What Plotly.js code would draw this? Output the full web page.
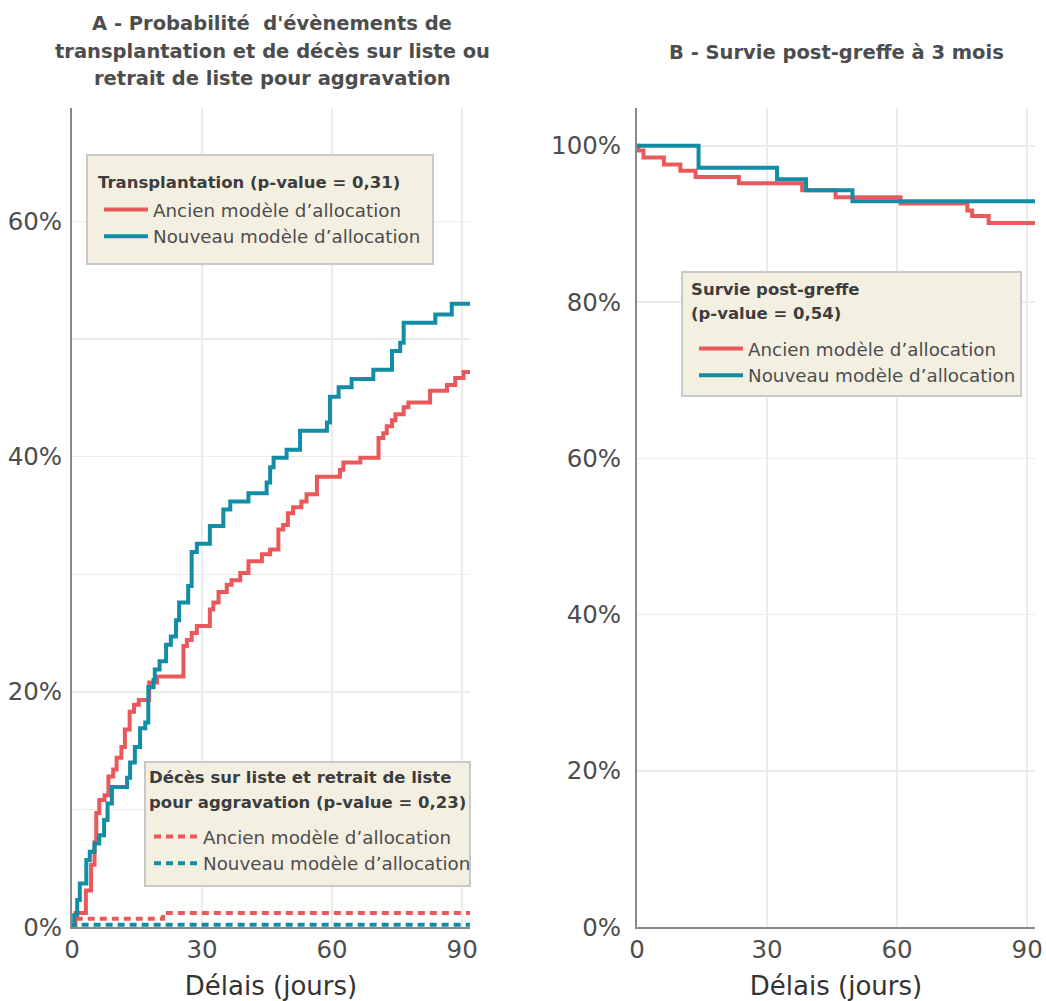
<!DOCTYPE html>
<html>
<head>
<meta charset="utf-8">
<script src="https://cdn.plot.ly/plotly-3.0.1.min.js"></script>
<style>html,body{margin:0;padding:0;background:#fff;}#chart{width:1046px;height:1001px;}</style>
</head>
<body>
<div id="chart"></div>
<script>
// ---------- DATA ----------
// Panel A : transplantation (cumulative incidence, %)
const daysTxAncien = [0,0.8,3.2,4.4,5.2,5.6,6.3,7.5,8.4,9.5,10.3,11.4,12.2,13.3,14.3,15.4,17.8,19.6,25.7,26.5,27.6,28.8,31.8,32.6,33.8,35.7,36.8,38.8,40.7,43.8,45.7,47.6,48.7,49.8,51.0,52.9,54.1,56.5,61.8,62.6,66.5,70.7,71.8,72.6,73.8,74.6,76.5,77.6,82.6,86.5,88.4,90.3,91.8];
const pctTxAncien  = [0,1.2,3.1,5.3,7.2,9.7,10.8,11.2,12.8,13.4,14.4,15.3,16.8,18.3,18.9,19.3,20.8,21.3,23.9,24.4,25.0,25.6,27.0,27.6,28.5,29.1,29.5,30.1,31.1,31.7,32.1,33.8,34.2,35.2,35.7,36.2,36.8,38.3,38.9,39.5,39.9,41.6,42.0,42.6,43.1,43.6,44.2,44.6,45.6,46.1,46.7,47.2,47.2];
const daysTxNouveau = [0,0.5,1.2,1.8,3.3,4.1,5.2,6.3,7.4,8.2,9.2,12.7,13.4,14.5,15.7,16.9,17.6,18.8,19.1,20.2,21.7,22.8,24.0,24.7,26.8,27.6,28.8,31.8,34.9,36.5,40.7,44.9,45.7,46.5,49.5,52.6,58.8,59.5,61.5,64.5,69.5,73.8,75.7,76.5,83.8,87.6,91.8];
const pctTxNouveau  = [0,1.0,2.3,3.7,5.7,6.4,7.1,7.8,9.1,10.5,11.9,12.7,14.0,15.3,16.9,17.4,20.4,21.0,21.9,22.6,24.0,24.7,26.1,27.6,29.0,31.9,32.6,34.1,35.5,36.2,36.9,37.8,39.1,39.9,40.6,42.2,42.9,45.1,45.9,46.6,47.4,49.0,49.7,51.4,52.1,53.0,53.0];
// Panel A : death on list / removal for aggravation (%)
const daysDcAncien = [0,0.5,21.0,91.8];
const pctDcAncien  = [0,0.7,1.2,1.2];
const daysDcNouveau = [0,0.5,91.8];
const pctDcNouveau  = [0,0.2,0.2];
// Panel B : post-transplant survival (%)
const daysSurvAncien = [0,0.3,1.5,6.2,10.0,13.5,23.5,38.1,45.8,60.8,76.2,77.3,81.1,91.8];
const pctSurvAncien  = [100,99.4,98.5,97.6,96.8,96.0,95.2,94.3,93.4,92.6,91.7,91.0,90.1,90.1];
const daysSurvNouveau = [0,14.2,32.3,39.0,49.7,91.8];
const pctSurvNouveau  = [100,97.2,95.7,94.3,92.9,92.9];

// tick labels
const xTickVals = [0, 30, 60, 90];
const yTickValsA = [0, 20, 40, 60];
const yTickValsB = [0, 20, 40, 60, 80, 100];

// texts
const seriesNames = ["Ancien modèle d’allocation", "Nouveau modèle d’allocation"];
const titleALines = ["A - Probabilité  d'évènements de", "transplantation et de décès sur liste ou", "retrait de liste pour aggravation"];
const titleB = "B - Survie post-greffe à 3 mois";
const legendTitle1Lines = ["Transplantation (p-value = 0,31)"];
const legendTitle2Lines = ["Décès sur liste et retrait de liste", "pour aggravation (p-value = 0,23)"];
const legendTitle3Lines = ["Survie post-greffe", "(p-value = 0,54)"];
const xTitle = "Délais (jours)";

// ---------- STYLE ----------
const W = 1046, H = 1001;
const px = (v) => v / W;          // pixel x -> paper
const py = (v) => 1 - v / H;      // pixel y -> paper
const RED = "#E9585B", BLUE = "#128DA6";
const FONT = "DejaVu Sans";
const TXT = "#4d4d4d";
const HEAD = "#3d3d3d";
const BOXFILL = "#F3F0E2", BOXLINE = "#c9c9c9";

function tr(x, y, color, name, xa, ya, leg, dash) {
  return {
    x: x, y: y, type: "scatter", mode: "lines", name: name,
    line: {shape: "hv", color: color, width: 4, dash: dash || "solid"},
    xaxis: xa, yaxis: ya, legend: leg, hoverinfo: "skip"
  };
}

const traces = [
  tr(daysTxAncien, pctTxAncien, RED, seriesNames[0], "x", "y", "legend"),
  tr(daysTxNouveau, pctTxNouveau, BLUE, seriesNames[1], "x", "y", "legend"),
  tr(daysDcAncien, pctDcAncien, RED, seriesNames[0], "x", "y", "legend2", "7px,5px"),
  tr(daysDcNouveau, pctDcNouveau, BLUE, seriesNames[1], "x", "y", "legend2", "7px,5px"),
  tr(daysSurvAncien, pctSurvAncien, RED, seriesNames[0], "x2", "y2", "legend3"),
  tr(daysSurvNouveau, pctSurvNouveau, BLUE, seriesNames[1], "x2", "y2", "legend3")
];

const axX = (dom) => ({
  domain: dom, range: [0, 91.8], tickvals: xTickVals, ticktext: xTickVals.map(String),
  showgrid: true, gridcolor: "#ebebeb", gridwidth: 1.5,
  showline: true, linecolor: "#8a8a8a", linewidth: 2,
  zeroline: false, ticks: "",
  tickfont: {family: FONT, size: 24.5, color: TXT},
  title: {text: xTitle, font: {family: FONT, size: 26, color: "#333"}, standoff: 18},
  fixedrange: true
});
const axY = (rng, vals, minorOn, standoff) => ({
  domain: [py(927), py(107.5)], range: rng, tickvals: vals, ticktext: vals.map(v => v + "%"),
  showgrid: true, gridcolor: "#ebebeb", gridwidth: 1.5,
  showline: true, linecolor: "#8a8a8a", linewidth: 2, zeroline: false, ticks: "",
  ticklabelstandoff: standoff,
  tickfont: {family: FONT, size: 24.5, color: TXT},
  minor: minorOn ? {dtick: 10, tick0: 0, showgrid: true, gridcolor: "#ebebeb", gridwidth: 1.5, ticks: ""} : undefined,
  fixedrange: true
});

const legendBase = {
  bgcolor: "rgba(0,0,0,0)", borderwidth: 0,
  font: {family: FONT, size: 18.3, color: TXT},
  xref: "paper", yref: "paper", xanchor: "left", yanchor: "top",
  tracegroupgap: 0, itemwidth: 44
};

function box(x0, y0, x1, y1) {
  return {type: "rect", xref: "paper", yref: "paper", x0: px(x0), x1: px(x1), y0: py(y1), y1: py(y0),
          fillcolor: BOXFILL, line: {color: BOXLINE, width: 2}, layer: "above"};
}

function heading(lines, x, y0, step, size, anchor, color) {
  return lines.map((t, i) => ({
    text: "<b>" + t + "</b>", xref: "paper", yref: "paper", x: px(x), y: py(y0 + i * step),
    xanchor: anchor, yanchor: "middle", showarrow: false, align: anchor === "center" ? "center" : "left",
    font: {family: FONT, size: size, color: color}
  }));
}

const annotations = [].concat(
  heading(titleALines, 272, 24, 27, 19.5, "center", TXT),
  heading([titleB], 836, 52, 27, 19.5, "center", TXT),
  heading(legendTitle1Lines, 96, 182, 25, 16.5, "left", HEAD),
  heading(legendTitle2Lines, 147, 777, 25, 16.5, "left", HEAD),
  heading(legendTitle3Lines, 689, 289, 24.5, 16.5, "left", HEAD)
);

const layout = {
  width: W, height: H,
  margin: {l: 0, r: 0, t: 0, b: 0},
  paper_bgcolor: "#ffffff", plot_bgcolor: "#ffffff",
  font: {family: FONT, color: TXT},
  showlegend: true,
  xaxis: axX([px(72), px(470)]),
  yaxis: axY([0, 69.7], yTickValsA, true, 3),
  xaxis2: Object.assign(axX([px(637), px(1035)]), {anchor: "y2"}),
  yaxis2: Object.assign(axY([0, 104.9], yTickValsB, false, 9), {anchor: "x2"}),
  legend:  Object.assign({}, legendBase, {x: px(99),  y: py(191)}),
  legend2: Object.assign({}, legendBase, {x: px(149), y: py(818)}),
  legend3: Object.assign({}, legendBase, {x: px(694), y: py(330)}),
  shapes: [box(87, 155, 433, 264), box(145, 762, 470, 886), box(682, 272, 1021, 396)],
  annotations: annotations
};

Plotly.newPlot("chart", traces, layout, {displayModeBar: false, staticPlot: true});
</script>
</body>
</html>
